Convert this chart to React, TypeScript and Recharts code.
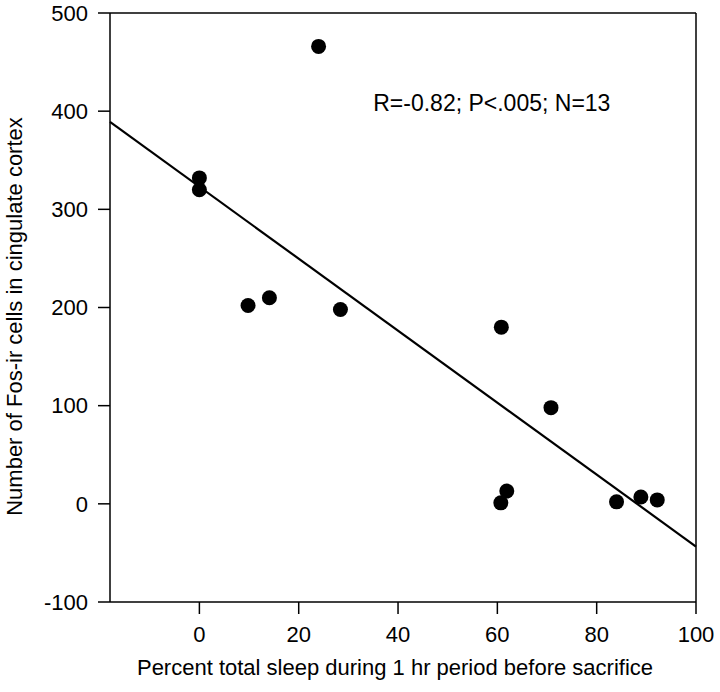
import React from 'react';
import { ScatterChart, Scatter, XAxis, YAxis, ReferenceLine, ReferenceDot } from 'recharts';

// percent sleep in the hour before sacrifice vs Fos-ir cell count
const sleepPct = [0, 0, 9.8, 14.1, 24, 28.4, 60.8, 70.8, 61.9, 60.7, 84, 88.9, 92.2];
const fosCells = [332, 320, 202, 210, 466, 198, 180, 98, 13, 1, 2, 7, 4];

const xTicks = [0, 20, 40, 60, 80, 100];
const yTicks = [-100, 0, 100, 200, 300, 400, 500];

// regression line end points
const fitX = [-18, 100];
const fitY = [389, -43.5];

const statsText = 'R=-0.82; P<.005; N=13';
const statsAt = { x: 35, y: 400 };

const xTitle = 'Percent total sleep during 1 hr period before sacrifice';
const yTitle = 'Number of Fos-ir cells in cingulate cortex';

const FONT = '"Liberation Sans", Arial, Helvetica, sans-serif';

const points = sleepPct.map((x, i) => ({ x, y: fosCells[i] }));

const Dot = (props: any) => <circle cx={props.cx} cy={props.cy} r={7.5} fill="#000" />;

export default function App() {
  return (
    <div style={{ position: 'absolute', left: 0, top: 0, width: 720, height: 692, background: '#fff', fontFamily: FONT }}>
      <ScatterChart width={720} height={692} margin={{ top: 13, right: 24, bottom: 0, left: 0 }}>
        <XAxis
          type="number"
          dataKey="x"
          domain={[-18, 100]}
          ticks={xTicks}
          allowDataOverflow
          height={90}
          stroke="#000"
          strokeWidth={1.5}
          tickSize={12}
          tickMargin={12}
          tick={{ fill: '#000', fontSize: 22, fontFamily: FONT }}
          label={{
            content: ({ viewBox }: any) => (
              <text
                x={viewBox.x + viewBox.width / 2 - 8}
                y={viewBox.y + 73}
                textAnchor="middle"
                fontSize={22}
                fontFamily={FONT}
                fill="#000"
              >
                {xTitle}
              </text>
            ),
          }}
        />
        <YAxis
          type="number"
          dataKey="y"
          domain={[-100, 500]}
          ticks={yTicks}
          allowDataOverflow
          width={110}
          stroke="#000"
          strokeWidth={1.5}
          tickSize={12}
          tickMargin={10}
          tick={{ fill: '#000', fontSize: 22, fontFamily: FONT }}
          label={{
            content: ({ viewBox }: any) => {
              const cx = viewBox.x + 14;
              const cy = viewBox.y + viewBox.height / 2 + 9;
              return (
                <text
                  x={cx}
                  y={cy}
                  transform={`rotate(-90, ${cx}, ${cy})`}
                  textAnchor="middle"
                  dominantBaseline="central"
                  fontSize={22}
                  fontFamily={FONT}
                  fill="#000"
                >
                  {yTitle}
                </text>
              );
            },
          }}
        />
        <ReferenceLine y={500} stroke="#000" strokeWidth={1.5} />
        <ReferenceLine x={100} stroke="#000" strokeWidth={1.5} />
        <ReferenceLine
          segment={[{ x: fitX[0], y: fitY[0] }, { x: fitX[1], y: fitY[1] }]}
          stroke="#000"
          strokeWidth={2.2}
        />
        <ReferenceDot
          x={statsAt.x}
          y={statsAt.y}
          r={0}
          stroke="none"
          label={{
            content: ({ viewBox }: any) => (
              <text x={viewBox.x} y={viewBox.y} textAnchor="start" fontSize={23} fontFamily={FONT} fill="#000">
                {statsText}
              </text>
            ),
          }}
        />
        <Scatter data={points} shape={Dot} isAnimationActive={false} />
      </ScatterChart>
    </div>
  );
}
